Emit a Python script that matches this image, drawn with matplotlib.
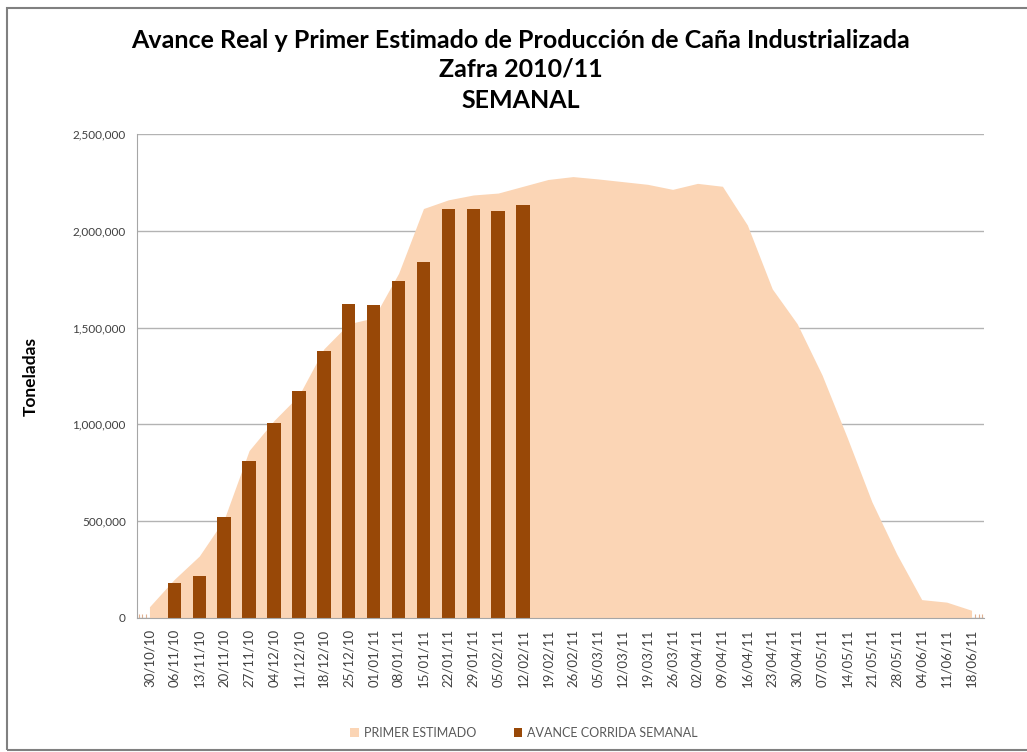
import matplotlib.pyplot as plt
from matplotlib.patches import Rectangle
from matplotlib.ticker import FuncFormatter, MultipleLocator
import numpy as np

# weekly dates (category axis)
semanas = [
    "30/10/10", "06/11/10", "13/11/10", "20/11/10", "27/11/10", "04/12/10",
    "11/12/10", "18/12/10", "25/12/10", "01/01/11", "08/01/11", "15/01/11",
    "22/01/11", "29/01/11", "05/02/11", "12/02/11", "19/02/11", "26/02/11",
    "05/03/11", "12/03/11", "19/03/11", "26/03/11", "02/04/11", "09/04/11",
    "16/04/11", "23/04/11", "30/04/11", "07/05/11", "14/05/11", "21/05/11",
    "28/05/11", "04/06/11", "11/06/11", "18/06/11",
]

# PRIMER ESTIMADO (toneladas)
primer_estimado = [
    58000, 200000, 320000, 510000, 865000, 1020000,
    1150000, 1390000, 1520000, 1550000, 1780000, 2115000,
    2160000, 2185000, 2195000, 2230000, 2265000, 2280000,
    2268000, 2254000, 2240000, 2214000, 2245000, 2230000,
    2030000, 1700000, 1520000, 1255000, 935000, 600000,
    330000, 95000, 82000, 40000,
]

# AVANCE CORRIDA SEMANAL (toneladas), only up to 12/02/11
avance = [
    None, 183000, 217000, 520000, 810000, 1007000,
    1170000, 1380000, 1620000, 1615000, 1740000, 1840000,
    2111000, 2111000, 2102000, 2131000,
]

area_color = "#FBD5B5"
bar_color = "#984807"
text_color = "#404040"

fig = plt.figure(figsize=(10.27, 7.52), dpi=100)
ax = fig.add_axes([137 / 1027, 1 - 618 / 752, (984 - 137) / 1027, (618 - 134) / 752])

x = np.arange(len(semanas))
ax.fill_between(x, primer_estimado, 0, color=area_color, linewidth=0, zorder=2,
                label="PRIMER ESTIMADO")

xb = [i for i, v in enumerate(avance) if v is not None]
vb = [v for v in avance if v is not None]
ax.bar(xb, vb, width=0.54, color=bar_color, zorder=3,
       label="AVANCE CORRIDA SEMANAL")

ax.set_xlim(-0.5, len(semanas) - 0.5)
ax.set_ylim(0, 2500000)
ax.yaxis.set_major_locator(MultipleLocator(500000))
ax.yaxis.set_major_formatter(FuncFormatter(lambda v, p: f"{int(v):,}"))
ax.grid(axis="y", color="#b3b3b3", linewidth=1, zorder=0)
ax.set_axisbelow(True)

ax.set_xticks(x)
ax.set_xticklabels(semanas, rotation=90, fontsize=9.5, color=text_color,
                   family="Lato")
ax.xaxis.set_minor_locator(MultipleLocator(1 / 7))
ax.tick_params(axis="x", which="major", length=0, pad=8)
ax.tick_params(axis="x", which="minor", direction="in", length=3,
               color="#e0b090", width=0.8)
ax.tick_params(axis="y", length=0, pad=8, labelsize=8.5, labelcolor=text_color)
for lbl in ax.get_yticklabels():
    lbl.set_family("Lato")

for side in ["top", "right"]:
    ax.spines[side].set_visible(False)
ax.spines["left"].set_color("#a6a6a6")
ax.spines["bottom"].set_color("#a6a6a6")
ax.spines["left"].set_zorder(4)
ax.spines["bottom"].set_zorder(4)

ax.set_ylabel("Toneladas", fontsize=12.5, fontweight="bold", family="Lato",
              labelpad=24)

fig.text(521 / 1027, 1 - 40 / 752, "Avance Real y Primer Estimado de Producción de Caña Industrializada",
         ha="center", va="center", fontsize=18, fontweight="bold", family="Lato")
fig.text(521 / 1027, 1 - 69 / 752, "Zafra 2010/11",
         ha="center", va="center", fontsize=18, fontweight="bold", family="Lato")
fig.text(521 / 1027, 1 - 101 / 752, "SEMANAL",
         ha="center", va="center", fontsize=18, fontweight="bold", family="Lato")

leg = fig.legend(loc="center", bbox_to_anchor=(524 / 1027, 1 - 733 / 752),
                 ncol=2, frameon=False, handlelength=0.7,
                 handleheight=0.7, columnspacing=3, handletextpad=0.4,
                 prop={"family": "Lato", "size": 9})
for t in leg.get_texts():
    t.set_color("#595959")

# chart frame
fig.patches.append(Rectangle((7 / 1027, 1 - 750 / 752), 1.1, 742 / 752,
                             transform=fig.transFigure, fill=False,
                             edgecolor="#808080", linewidth=1.5))

plt.savefig("out.png", dpi=100)
